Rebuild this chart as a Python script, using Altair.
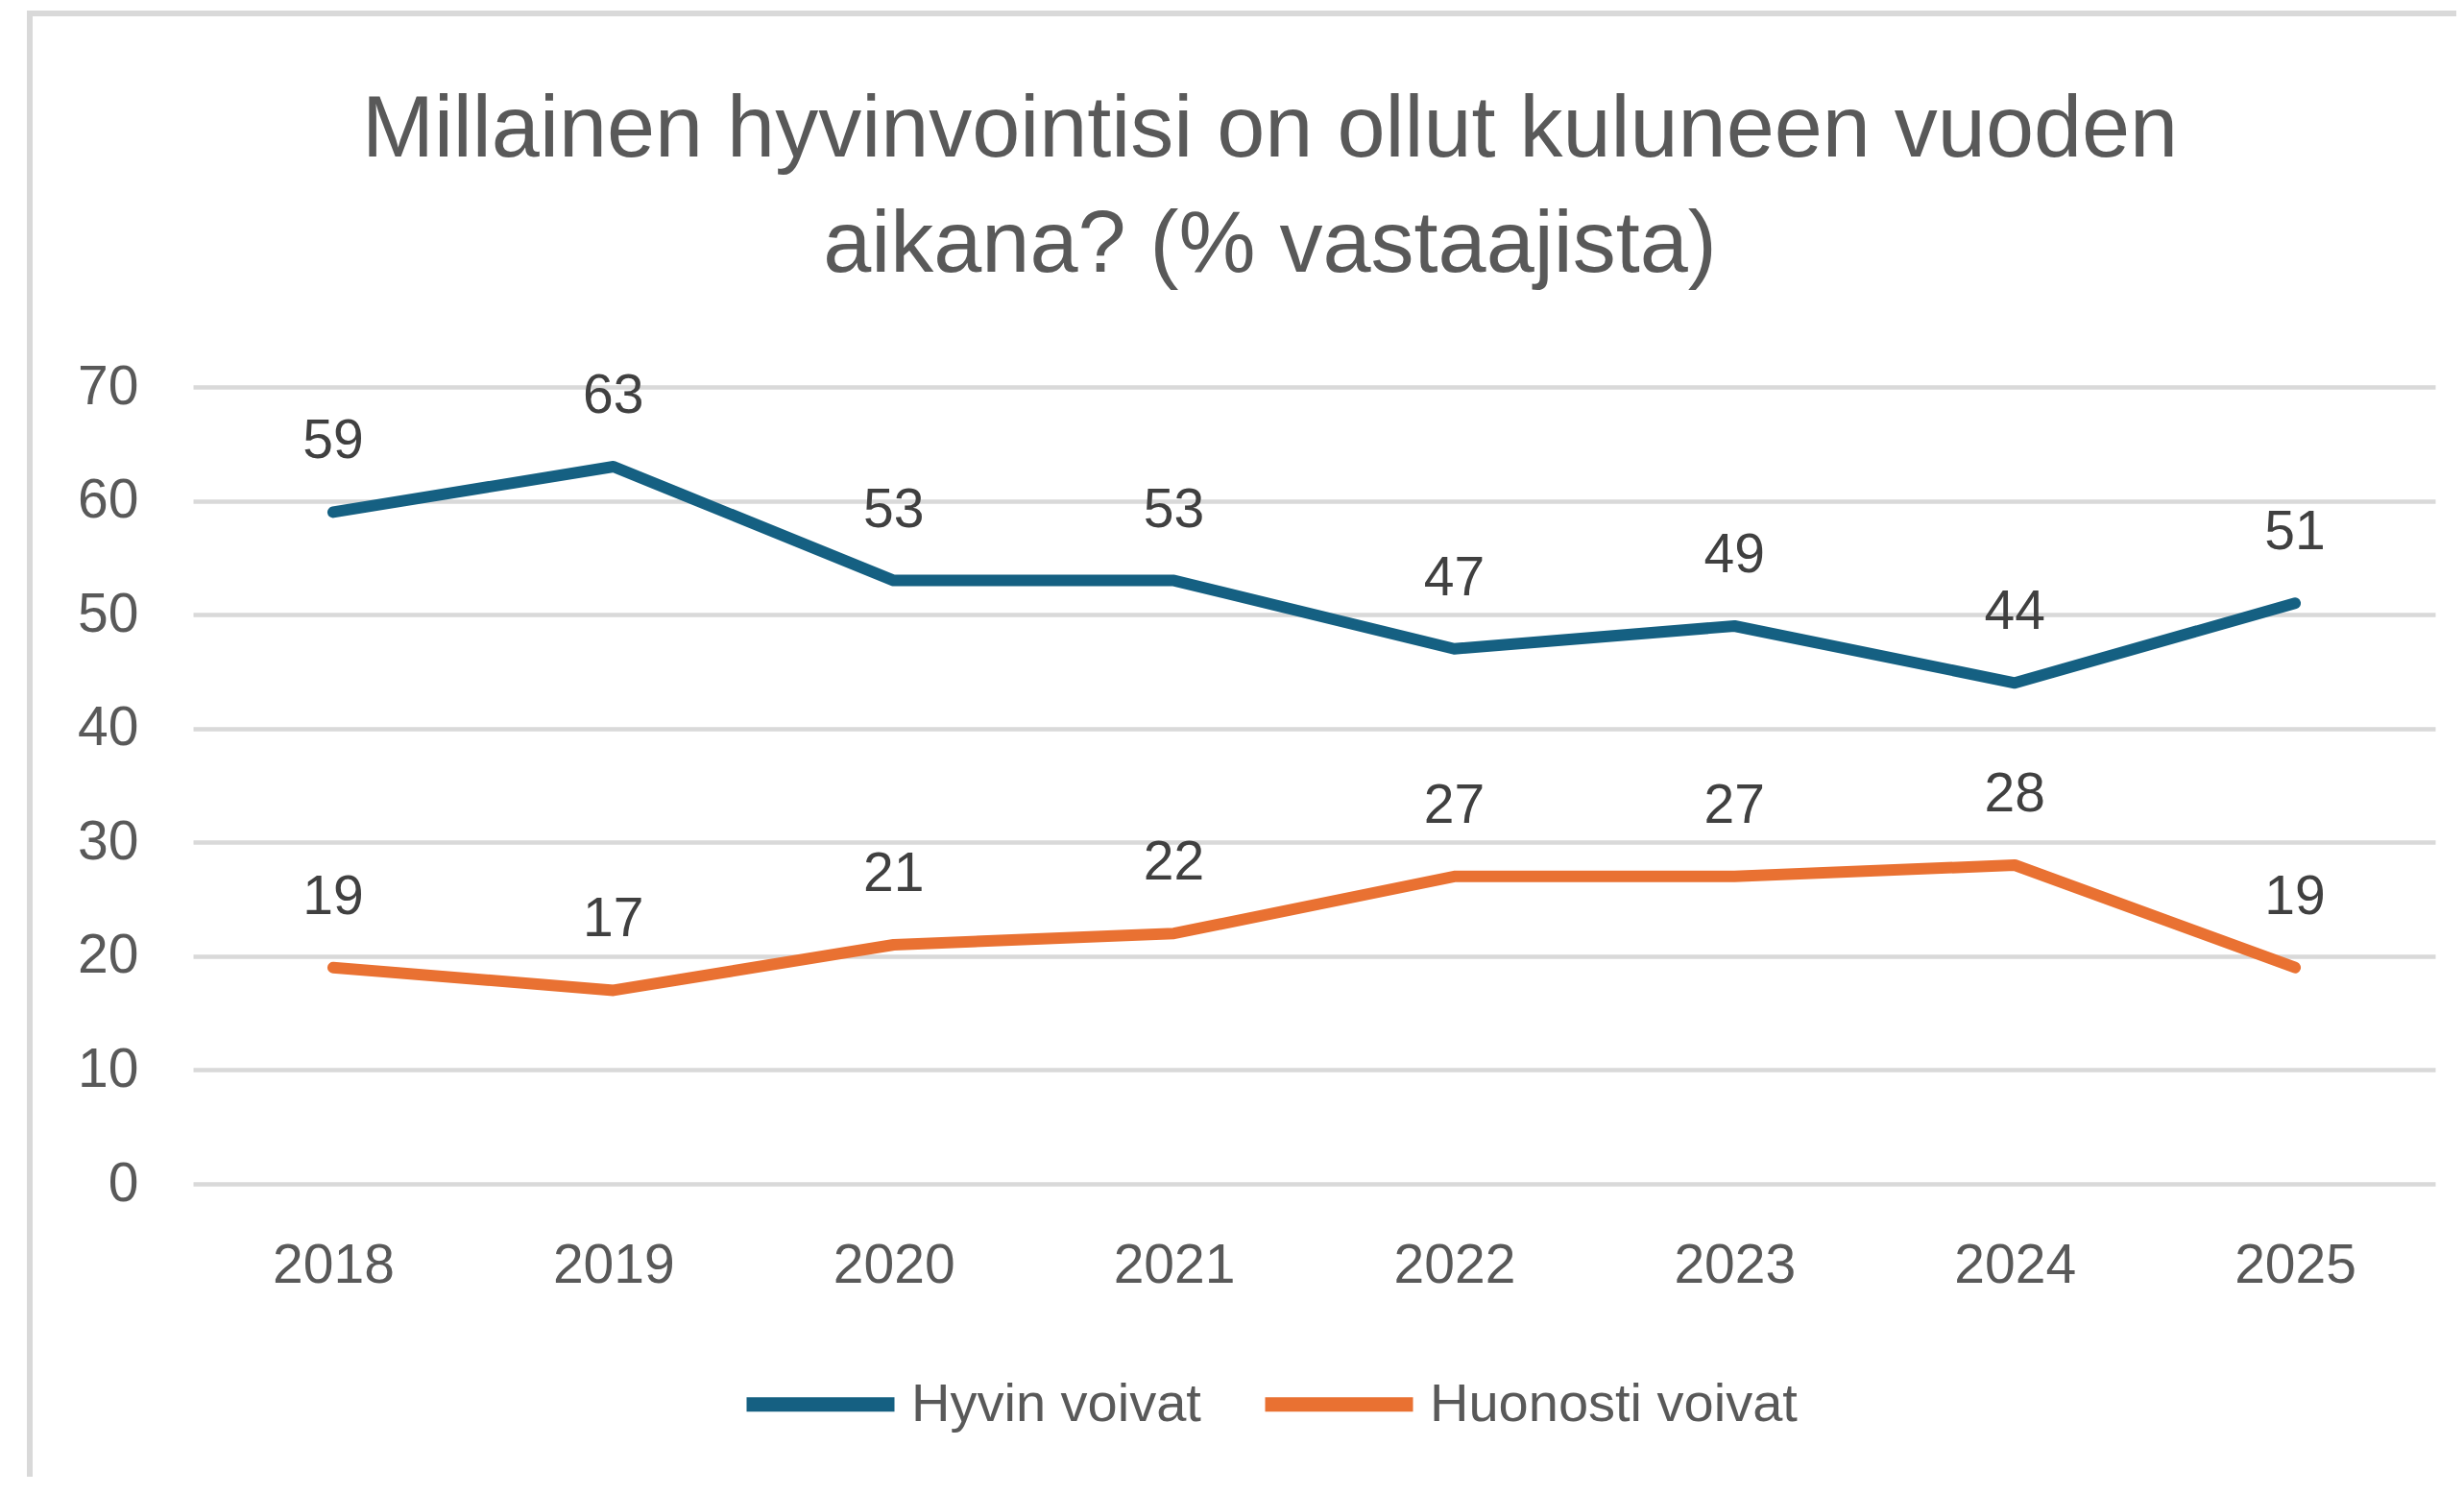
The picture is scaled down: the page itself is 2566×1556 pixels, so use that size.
import altair as alt
import pandas as pd

years = ["2018", "2019", "2020", "2021", "2022", "2023", "2024", "2025"]
hyvin = [59, 63, 53, 53, 47, 49, 44, 51]
huonosti = [19, 17, 21, 22, 27, 27, 28, 19]
series_names = ["Hyvin voivat", "Huonosti voivat"]
series_colors = ["#156082", "#E97132"]
y_ticks = [0, 10, 20, 30, 40, 50, 60, 70]
title_lines = ["Millainen hyvinvointisi on ollut kuluneen vuoden", "aikana? (% vastaajista)"]

rows = []
for name, vals in zip(series_names, [hyvin, huonosti]):
    for yr, v in zip(years, vals):
        rows.append({"vuosi": yr, "sarja": name, "arvo": v})
df = pd.DataFrame(rows)

FONT = "Liberation Sans"
W, H = 2335, 830

x_enc = alt.X(
    "vuosi:O",
    sort=years,
    scale=alt.Scale(type="point", padding=0.5),
    axis=alt.Axis(title=None, labelAngle=0, domain=False, ticks=False,
                  labelFontSize=57, labelColor="#595959", labelFont=FONT,
                  labelPadding=57, grid=False),
)
y_enc = alt.Y(
    "arvo:Q",
    scale=alt.Scale(domain=[0, 70], nice=False),
    axis=alt.Axis(title=None, values=y_ticks, domain=False, ticks=False,
                  labelFontSize=57, labelColor="#595959", labelFont=FONT,
                  labelPadding=57, grid=True, gridColor="#d9d9d9", gridWidth=4.5),
)
color_enc = alt.Color(
    "sarja:N",
    sort=series_names,
    scale=alt.Scale(domain=series_names, range=series_colors),
    legend=alt.Legend(
        title=None, orient="none", direction="horizontal",
        legendX=569, legendY=975,
        symbolType="stroke", symbolSize=154 * 154, symbolStrokeWidth=15,
        labelFontSize=56, labelColor="#595959", labelFont=FONT, labelLimit=0,
        labelOffset=10, columnPadding=36,
    ),
)

base = alt.Chart(df)

lines = base.mark_line(strokeWidth=12, strokeCap="round", strokeJoin="round").encode(
    x=x_enc, y=y_enc, color=color_enc
)
labels = base.mark_text(fontSize=57, font=FONT, color="#404040", dy=-73, baseline="middle").encode(
    x=alt.X("vuosi:O", sort=years), y="arvo:Q", text="arvo:Q"
)

# outer chart frame (decorative border)
border_top = alt.Chart(df).mark_rule(color="#d9d9d9", strokeWidth=6).encode(
    x=alt.value(-170), x2=alt.value(2360), y=alt.value(-389)
)
border_left = alt.Chart(df).mark_rule(color="#d9d9d9", strokeWidth=6).encode(
    x=alt.value(-170), y=alt.value(-392), y2=alt.value(1140)
)

chart = alt.layer(border_top, border_left, lines, labels).properties(
    width=W,
    height=H,
    background="white",
    title=alt.TitleParams(
        text=title_lines, fontSize=90, font=FONT, color="#595959",
        fontWeight="normal", lineHeight=120, anchor="middle", frame="group",
        dx=-46, offset=-294,
    ),
    autosize=alt.AutoSizeParams(type="none"),
    padding={"left": 193, "top": 395, "right": 22, "bottom": 305},
).configure_view(stroke=None)

chart.save("out.html", embed_options={"renderer": "svg", "actions": False})
